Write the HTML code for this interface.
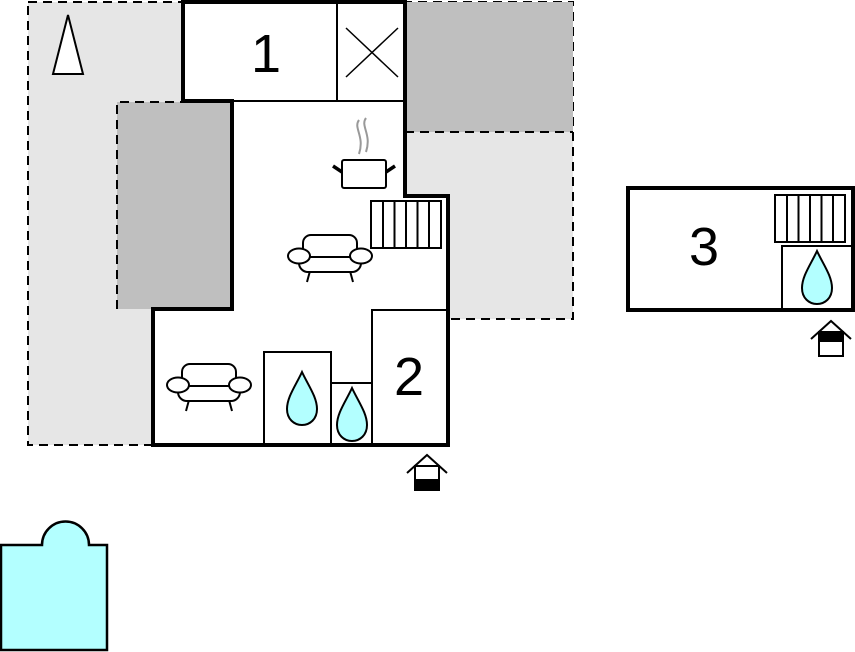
<!DOCTYPE html>
<html><head><meta charset="utf-8"><style>html,body{margin:0;padding:0;background:#fff}svg{display:block}</style></head><body>
<svg width="855" height="652" viewBox="0 0 855 652" xmlns="http://www.w3.org/2000/svg">
<defs>
<g id="sofa" fill="#fff" stroke="#000" stroke-width="2">
<line x1="-20" y1="16" x2="-23" y2="27"/><line x1="20" y1="16" x2="23" y2="27"/>
<rect x="-31" y="-6" width="62" height="23" rx="9"/>
<rect x="-27" y="-20" width="54" height="22" rx="8"/>
<ellipse cx="-31" cy="1" rx="11" ry="7.5"/><ellipse cx="31" cy="1" rx="11" ry="7.5"/>
</g>
<path id="drop" d="M0,-27 C6,-14 15,-2 15,10 C15,20 8,26 0,26 C-8,26 -15,20 -15,10 C-15,-2 -6,-14 0,-27Z" fill="#b3ffff" stroke="#000" stroke-width="2"/>
<g id="ent" stroke="#000" fill="none" stroke-width="2">
<polyline points="-20,1 0,-17 20,1"/>
<rect x="-12" y="-6" width="24" height="24" fill="#fff"/>
</g>
</defs>
<path d="M28,2H573V319H448V196H405V101H232V309H153V445H28Z" fill="#e6e6e6"/>
<path d="M28,2H573V319H448 M153,445H28V2" fill="none" stroke="#000" stroke-width="2" stroke-dasharray="9,6"/>
<rect x="405" y="2" width="168" height="130" fill="#bfbfbf"/>
<path d="M405,132H573" stroke="#000" stroke-width="2" stroke-dasharray="9,6"/>
<rect x="117" y="102" width="115" height="207" fill="#bfbfbf"/>
<path d="M117,309V102H232" fill="none" stroke="#000" stroke-width="2" stroke-dasharray="9,6"/>
<polygon points="53,74 68,15 83,74" fill="#fff" stroke="#000" stroke-width="2"/>
<path d="M183,2H405V196H448V445H153V309H232V101H183Z" fill="#fff" stroke="#000" stroke-width="4"/>
<line x1="232" y1="101" x2="405" y2="101" stroke="#000" stroke-width="2"/>
<line x1="337" y1="2" x2="337" y2="101" stroke="#000" stroke-width="2"/>
<path d="M346,28L398,77M398,28L346,77" stroke="#000" stroke-width="1.5"/>
<text x="266" y="72" font-family="Liberation Sans,sans-serif" font-size="54" text-anchor="middle">1</text>
<path d="M359,120c-6,8 6,16 0,34M366,118c-6,8 6,16 0,34" stroke="#999" stroke-width="2" fill="none"/>
<rect x="342" y="160" width="44" height="28" rx="2" fill="#fff" stroke="#000" stroke-width="2"/>
<path d="M342,172L333,166M386,172L395,166" stroke="#000" stroke-width="3.5"/>
<rect x="371" y="201" width="70" height="47" fill="#fff" stroke="#000" stroke-width="2"/>
<path d="M383,201V248M394.5,201V248M406,201V248M417.5,201V248M429,201V248" stroke="#000" stroke-width="2"/>
<use href="#sofa" x="330" y="255"/>
<use href="#sofa" x="209" y="384"/>
<rect x="264" y="352" width="67" height="93" fill="#fff" stroke="#000" stroke-width="2"/>
<rect x="331" y="383" width="41" height="62" fill="#fff" stroke="#000" stroke-width="2"/>
<rect x="372" y="310" width="76" height="135" fill="#fff" stroke="#000" stroke-width="2"/>
<path d="M153,445H448V196" fill="none" stroke="#000" stroke-width="4"/>
<text x="409" y="395" font-family="Liberation Sans,sans-serif" font-size="54" text-anchor="middle">2</text>
<use href="#drop" x="302" y="399"/>
<use href="#drop" x="352" y="415"/>
<use href="#ent" x="427" y="472"/>
<rect x="415" y="479" width="24" height="11" fill="#000"/>
<rect x="628" y="188" width="225" height="122" fill="#fff" stroke="#000" stroke-width="4"/>
<rect x="775" y="195" width="70" height="47" fill="#fff" stroke="#000" stroke-width="2"/>
<path d="M787,195V242M798.5,195V242M810,195V242M821.5,195V242M833,195V242" stroke="#000" stroke-width="2"/>
<path d="M782,310V246H853" fill="none" stroke="#000" stroke-width="2"/>
<rect x="628" y="188" width="225" height="122" fill="none" stroke="#000" stroke-width="4"/>
<text x="704" y="265" font-family="Liberation Sans,sans-serif" font-size="54" text-anchor="middle">3</text>
<use href="#drop" x="817" y="278"/>
<use href="#ent" x="831" y="338"/>
<rect x="819" y="332" width="24" height="10" fill="#000"/>
<path d="M1,545H42A23,23 0 0 1 89,545H107V650H1Z" fill="#b3ffff" stroke="#000" stroke-width="2.5"/>
</svg>
</body></html>
